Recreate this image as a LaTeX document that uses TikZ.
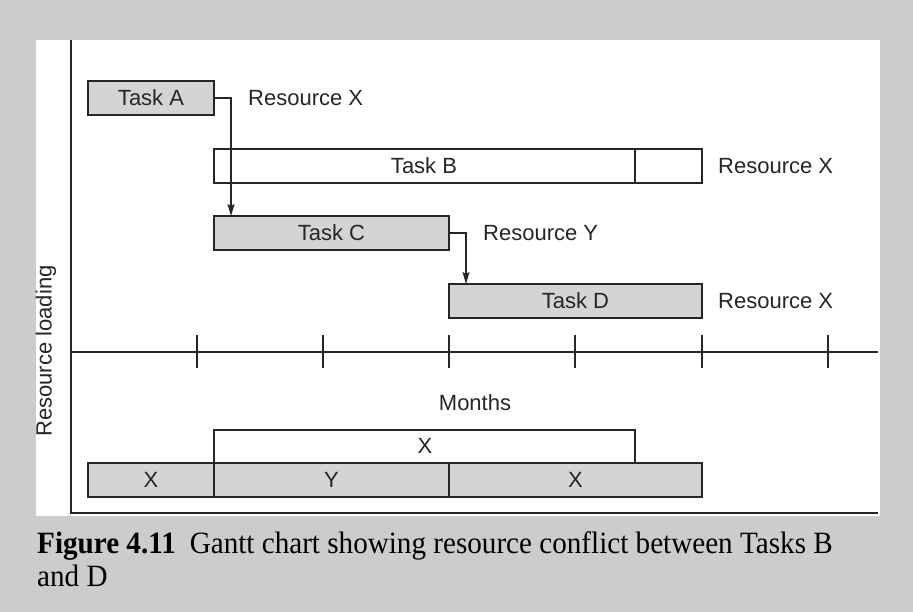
\documentclass[tikz,border=0pt]{standalone}
\usepackage{fontspec}
\setmainfont{Liberation Serif}
\newfontfamily\labelfont{Liberation Sans}
\newfontfamily\capfont[FakeStretch=0.94]{Liberation Serif}
\usetikzlibrary{arrows.meta}
\definecolor{pagegrey}{HTML}{CCCCCC}
\definecolor{barfill}{HTML}{D4D4D4}
\definecolor{inkcol}{HTML}{262626}

\begin{document}
\begin{tikzpicture}[x=1pt,y=-1pt,
  ink/.style={draw=inkcol, line width=1.3pt},
  bar/.style={ink, fill=barfill, inner sep=0pt, outer sep=0pt, anchor=north west,
    minimum height=34pt, text=inkcol, font=\labelfont\fontsize{22}{26}\selectfont},
  openbar/.style={bar, fill=white},
  lbl/.style={inner sep=0pt, anchor=west, text=inkcol, font=\labelfont\fontsize{22}{26}\selectfont},
  link/.style={draw=inkcol, line width=1.3pt, -{Stealth[length=12pt,width=7pt,inset=2pt]}},
  axis/.style={draw=inkcol, line width=1.3pt},
  captext/.style={inner sep=0pt, anchor=base west, text=black, font=\capfont\fontsize{31}{31}\selectfont}]

% page and panel
\fill[pagegrey] (0,0) rectangle (913,612);
\fill[white] (36,40) rectangle (880,516);
\useasboundingbox (0,0) rectangle (913,612);

% axes
\draw[axis] (71,40) -- (71,513) -- (878,513);
\draw[axis] (71,352) -- (878,352);
\foreach \t in {71,197,323,449,575,702,828}
  \draw[axis] (\t,335) -- (\t,368);

% tasks
\node[bar, minimum width=126pt] (A) at (88,81) {Task A};
\node[openbar, minimum width=488pt] (B) at (214,149) {};
\node[text=inkcol, font=\labelfont\fontsize{22}{26}\selectfont, inner sep=0pt] (Blbl) at (424,166) {Task B};
\draw[ink] ([xshift=421pt]B.north west) -- ([xshift=421pt]B.south west);
\node[bar, minimum width=235pt] (C) at (214,216) {Task C};
\node[bar, minimum width=253pt] (D) at (449,284) {Task D};

% resource labels
\node[lbl] (rA) at (248,98) {Resource X};
\node[lbl] (rB) at (718,166) {Resource X};
\node[lbl] (rC) at (483,233) {Resource Y};
\node[lbl] (rD) at (718,301) {Resource X};

% dependency links
\draw[link] (A.east) -| ([xshift=17pt]C.north west);
\draw[link] (C.east) -| ([xshift=17pt]D.north west);

% axis labels
\node[text=inkcol, font=\labelfont\fontsize{22}{26}\selectfont, inner sep=0pt] (months) at (475,403) {Months};
\node[text=inkcol, font=\labelfont\fontsize{22}{26}\selectfont, inner sep=0pt, rotate=90] (load) at (46,351) {Resource loading};

% resource loading profile
\node[openbar, minimum width=421pt, minimum height=33pt] (U) at (214,430) {};
\node[text=inkcol, font=\labelfont\fontsize{22}{26}\selectfont, inner sep=0pt] (Ulbl) at (425,446) {X};
\node[bar, minimum width=126pt] (L1) at (88,463) {X};
\node[bar, minimum width=235pt] (L2) at (214,463) {Y};
\node[bar, minimum width=253pt] (L3) at (449,463) {X};

% caption
\node[captext] (cap1) at (37,553) {\textbf{Figure 4.11}\hspace{0.45em}Gantt chart showing resource conflict between Tasks B};
\node[captext] (cap2) at (37,586) {and D};
\end{tikzpicture}
\end{document}
